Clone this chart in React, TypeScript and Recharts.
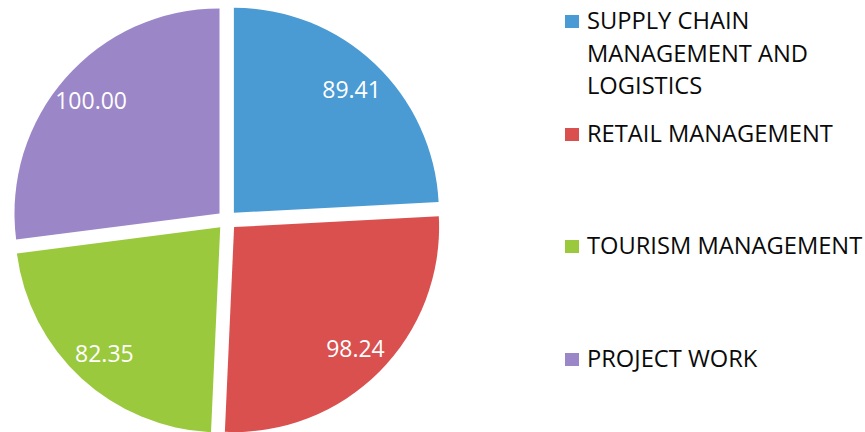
import React from 'react';
import { PieChart, Pie, Cell, Sector, Legend } from 'recharts';

const categories = [
  'SUPPLY CHAIN MANAGEMENT AND LOGISTICS',
  'RETAIL MANAGEMENT',
  'TOURISM MANAGEMENT',
  'PROJECT WORK',
];
const values = [89.41, 98.24, 82.35, 100.0];
const colors = ['#4a9ad4', '#d9504f', '#9ac93e', '#9b86c8'];

const data = categories.map((name, i) => ({ name, value: values[i] }));

const RAD = Math.PI / 180;
const EXPLODE = 10;
const FONT = '"Open Sans", "Noto Sans", sans-serif';

const ExplodedSector = (props: any) => {
  const { cx, cy, midAngle } = props;
  const dx = EXPLODE * Math.cos(-midAngle * RAD);
  const dy = EXPLODE * Math.sin(-midAngle * RAD);
  return <Sector {...props} cx={cx + dx} cy={cy + dy} stroke="none" />;
};

const renderLabel = (props: any) => {
  const { cx, cy, midAngle, value } = props;
  const r = 181;
  const x = cx + r * Math.cos(-midAngle * RAD);
  const y = cy + r * Math.sin(-midAngle * RAD);
  return (
    <text
      x={x}
      y={y}
      fill="#ffffff"
      textAnchor="middle"
      dominantBaseline="central"
      fontFamily={FONT}
      fontSize={23}
    >
      {Number(value).toFixed(2)}
    </text>
  );
};

const LegendContent = () => (
  <div style={{ position: 'absolute', left: 565, top: 0, width: 300 }}>
    {data.map((d, i) => (
      <div
        key={d.name}
        style={{
          position: 'absolute',
          top: 4 + i * 112.5,
          left: 0,
          display: 'flex',
          alignItems: 'flex-start',
        }}
      >
        <div
          style={{
            width: 14,
            height: 13,
            background: colors[i],
            marginTop: 11,
            flexShrink: 0,
          }}
        />
        <div
          style={{
            marginLeft: 8,
            width: 292,
            fontFamily: FONT,
            fontSize: 23.7,
            lineHeight: '32.5px',
            color: '#0a0a0a',
            whiteSpace: 'normal',
          }}
        >
          {d.name}
        </div>
      </div>
    ))}
  </div>
);

export default function App() {
  return (
    <div style={{ position: 'fixed', left: 0, top: 0, width: 865, height: 432, background: '#fff', overflow: 'hidden' }}>
      <PieChart width={865} height={432} margin={{ top: 0, right: 0, bottom: 0, left: 0 }}>
        <Pie
          data={data}
          dataKey="value"
          nameKey="name"
          cx={227}
          cy={220}
          outerRadius={205}
          startAngle={90}
          endAngle={-270}
          shape={ExplodedSector}
          label={renderLabel}
          labelLine={false}
          isAnimationActive={false}
        >
          {data.map((d, i) => (
            <Cell key={d.name} fill={colors[i]} stroke="none" />
          ))}
        </Pie>
        <Legend
          content={LegendContent}
          wrapperStyle={{ position: 'absolute', left: 0, top: 0, width: 865, height: 432 }}
        />
      </PieChart>
    </div>
  );
}
